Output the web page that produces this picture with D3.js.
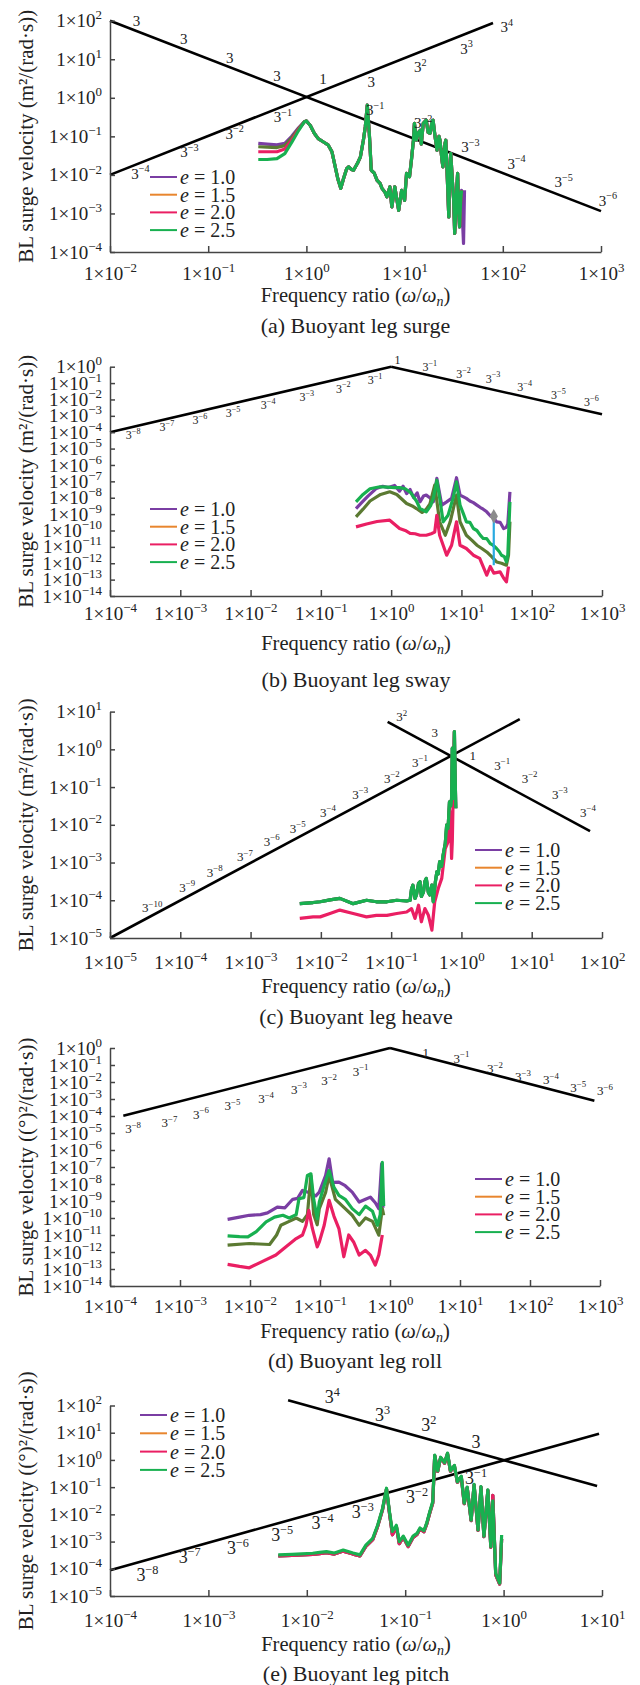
<!DOCTYPE html>
<html>
<head>
<meta charset="utf-8">
<script src="https://cdn.jsdelivr.net/npm/d3@7"></script>
<style>
  body { margin: 0; background: #fff; }
  svg { display: block; }
  text { font-family: "Liberation Serif", "Times New Roman", serif; fill: #222; }
</style>
</head>
<body>
<svg id="chart" width="640" height="1685"></svg>
<script>
// ---- data (all pairs are [log10 x, log10 y]) ----
const seriesValues = ['1.0', '1.5', '2.0', '2.5'];
const legendColors = ['#7a3ea3', '#e8862e', '#ea1f63', '#18b050'];
const lineColors = ['#7a3ea3', '#5b7a32', '#ea1f63', '#18b050'];

const captions = ['(a) Buoyant leg surge', '(b) Buoyant leg sway', '(c) Buoyant leg heave',
  '(d) Buoyant leg roll', '(e) Buoyant leg pitch'];
const yTitleLinear = 'BL surge velocity (m²/(rad·s))';
const yTitleAngular = 'BL surge velocity ((°)²/(rad·s))';

// tick exponents
const surgeXTicks = [-2, -1, 0, 1, 2, 3];
const surgeYTicks = [-4, -3, -2, -1, 0, 1, 2];
const swayXTicks = [-4, -3, -2, -1, 0, 1, 2, 3];
const swayYTicks = [-14, -13, -12, -11, -10, -9, -8, -7, -6, -5, -4, -3, -2, -1, 0];
const heaveXTicks = [-5, -4, -3, -2, -1, 0, 1, 2];
const heaveYTicks = [-5, -4, -3, -2, -1, 0, 1];
const rollXTicks = [-4, -3, -2, -1, 0, 1, 2, 3];
const rollYTicks = [-14, -13, -12, -11, -10, -9, -8, -7, -6, -5, -4, -3, -2, -1, 0];
const pitchXTicks = [-4, -3, -2, -1, 0, 1];
const pitchYTicks = [-5, -4, -3, -2, -1, 0, 1, 2];

// (a) surge
const surgeHeadPurple = [[-0.49,-1.18],[-0.40,-1.20],[-0.30,-1.22],[-0.22,-1.18],[-0.15,-1.00],[-0.08,-0.78],[-0.02,-0.62]];
const surgeHeadOlive = [[-0.49,-1.27],[-0.40,-1.28],[-0.30,-1.29],[-0.22,-1.24],[-0.15,-1.04],[-0.08,-0.80],[-0.02,-0.62]];
const surgeHeadPink = [[-0.49,-1.40],[-0.40,-1.40],[-0.30,-1.40],[-0.22,-1.33],[-0.15,-1.10],[-0.08,-0.82],[-0.02,-0.62]];
const surgeHeadGreen = [[-0.49,-1.60],[-0.40,-1.60],[-0.30,-1.58],[-0.22,-1.45],[-0.15,-1.16],[-0.08,-0.85],[-0.02,-0.62]];
const surgeTail = [[0.00,-0.60],[0.04,-0.72],[0.08,-0.92],[0.12,-1.06],[0.17,-1.14],[0.22,-1.22],[0.26,-1.40],
  [0.29,-1.75],[0.32,-2.10],[0.35,-2.35],[0.38,-2.08],[0.41,-1.84],[0.43,-1.79],[0.46,-1.86],[0.48,-1.88],
  [0.52,-1.70],[0.55,-1.53],[0.58,-1.10],[0.60,-0.75],[0.62,-0.19],[0.64,-0.90],[0.65,-1.36],[0.66,-1.88],
  [0.69,-1.95],[0.72,-2.14],[0.75,-2.22],[0.77,-2.35],[0.80,-2.45],[0.82,-2.57],[0.85,-2.31],[0.87,-2.83],
  [0.90,-2.31],[0.92,-2.62],[0.94,-2.92],[0.97,-2.40],[1.00,-2.66],[1.02,-1.96],[1.05,-2.05],[1.07,-1.60],
  [1.09,-1.10],[1.10,-0.66],[1.12,-1.10],[1.14,-0.90],[1.16,-0.84],[1.17,-1.20],[1.19,-0.66],[1.22,-0.58],
  [1.24,-0.90],[1.26,-0.92],[1.28,-0.60],[1.29,-0.58],[1.31,-1.00],[1.33,-1.36],[1.35,-1.00],[1.36,-1.10],
  [1.38,-1.60],[1.39,-1.79],[1.41,-1.20],[1.42,-1.10],[1.44,-2.40],[1.45,-3.09],[1.46,-2.00],[1.47,-1.44],
  [1.49,-2.30],[1.50,-2.66],[1.51,-3.52],[1.53,-2.40],[1.54,-1.96],[1.55,-2.90],[1.56,-3.35],[1.57,-2.70],[1.58,-2.40]];
const surgeEndPurple = [[1.59,-3.20],[1.60,-3.78],[1.61,-2.40]];
const surgeRefDown = [[-2, 2], [3, -2.94]];
const surgeRefUp = [[-2, -2], [1.9, 1.94]];
const surgeRefLabels = [
  ['3','',-1.73,2.0],['3','',-1.25,1.52],['3','',-0.78,1.05],['3','',-0.30,0.56],
  ['3','−4',-1.69,-1.96],['3','−3',-1.19,-1.40],['3','−2',-0.73,-0.92],['3','−1',-0.24,-0.49],
  ['1','',0.17,0.50],
  ['3','',0.66,0.42],['3','2',1.16,0.81],['3','3',1.63,1.28],['3','4',2.04,1.84],
  ['3','−1',0.70,-0.32],['3','−2',1.19,-0.66],['3','−3',1.67,-1.27],['3','−4',2.14,-1.70],['3','−5',2.62,-2.18],['3','−6',3.07,-2.66]];

// (b) sway
const swayPurple = [[-0.50,-8.66],[-0.42,-8.30],[-0.33,-7.90],[-0.21,-7.43],[-0.12,-7.30],[-0.04,-7.38],[0.05,-7.25],
  [0.12,-7.60],[0.17,-7.30],[0.22,-7.75],[0.27,-7.50],[0.32,-8.00],[0.37,-7.70],[0.41,-8.25],[0.46,-7.90],[0.50,-7.84],
  [0.55,-8.00],[0.60,-8.25],[0.65,-6.82],[0.72,-8.45],[0.79,-8.25],[0.86,-8.04],[0.93,-6.78],[0.98,-7.84],[1.03,-7.95],
  [1.07,-8.04],[1.12,-8.20],[1.17,-8.30],[1.22,-8.45],[1.27,-8.60],[1.31,-8.70],[1.36,-8.86],[1.41,-9.10],[1.45,-9.20],
  [1.50,-9.47],[1.55,-9.50],[1.60,-9.88],[1.64,-9.80],[1.66,-9.60],[1.69,-7.64]];
const swayOlive = [[-0.50,-9.17],[-0.40,-8.70],[-0.30,-8.20],[-0.15,-7.80],[-0.02,-7.64],[0.08,-7.80],[0.22,-8.35],
  [0.30,-8.50],[0.36,-8.66],[0.44,-8.90],[0.50,-8.70],[0.55,-8.40],[0.62,-7.23],[0.69,-9.47],[0.77,-10.29],[0.84,-9.47],
  [0.93,-7.84],[0.98,-9.47],[1.07,-10.29],[1.15,-10.60],[1.22,-10.90],[1.29,-11.10],[1.36,-11.31],[1.43,-11.60],
  [1.50,-11.92],[1.57,-12.00],[1.64,-12.12],[1.67,-11.50],[1.69,-9.47]];
const swayPink = [[-0.50,-9.78],[-0.35,-9.60],[-0.20,-9.45],[-0.02,-9.37],[0.12,-9.88],[0.20,-10.00],[0.27,-10.18],
  [0.34,-10.20],[0.41,-10.29],[0.50,-10.29],[0.57,-10.20],[0.62,-10.10],[0.65,-9.07],[0.69,-10.29],[0.74,-10.90],
  [0.79,-11.51],[0.86,-10.90],[0.93,-9.47],[0.98,-10.90],[1.07,-11.10],[1.17,-11.51],[1.26,-11.70],[1.36,-12.73],
  [1.41,-12.20],[1.46,-12.60],[1.55,-12.53],[1.60,-12.90],[1.64,-13.14],[1.67,-12.20]];
const swayGreen = [[-0.50,-8.25],[-0.40,-7.80],[-0.30,-7.45],[-0.16,-7.33],[-0.05,-7.35],[0.05,-7.38],[0.12,-7.38],
  [0.20,-7.45],[0.28,-7.70],[0.36,-8.20],[0.41,-8.66],[0.50,-8.86],[0.56,-8.50],[0.60,-8.04],[0.65,-6.93],[0.69,-8.00],
  [0.74,-9.47],[0.81,-9.07],[0.88,-8.04],[0.93,-7.03],[0.98,-8.45],[1.03,-9.00],[1.07,-9.47],[1.12,-9.50],[1.17,-9.88],
  [1.22,-10.00],[1.27,-10.30],[1.31,-10.49],[1.36,-10.50],[1.41,-10.80],[1.45,-10.90],[1.50,-11.10],[1.54,-11.30],
  [1.57,-11.51],[1.61,-11.60],[1.64,-11.92],[1.66,-11.50],[1.69,-8.25]];
const swayTip = [1.46, -9.13, -12.12];
const swayRefUp = [[-4, -4], [0, 0]];
const swayRefDown = [[0, 0], [3, -2.9]];
const swayRefLabels = [
  ['3','−8',-3.67,-4.18],['3','−7',-3.19,-3.67],['3','−6',-2.72,-3.26],['3','−5',-2.25,-2.79],['3','−4',-1.75,-2.30],
  ['3','−3',-1.20,-1.83],['3','−2',-0.68,-1.32],['3','−1',-0.23,-0.81],['1','',0.09,0.41],['3','−1',0.55,0],
  ['3','−2',1.03,-0.41],['3','−3',1.45,-0.71],['3','−4',1.90,-1.22],['3','−5',2.38,-1.73],['3','−6',2.85,-2.14]];

// (c) heave
const heaveUpper = [[-2.30,-4.09],[-2.11,-4.06],[-2.01,-4.04],[-1.87,-3.99],[-1.73,-3.95],[-1.54,-4.09],[-1.35,-4.00],
  [-1.21,-4.04],[-1.06,-4.04],[-0.92,-4.00],[-0.78,-4.02],[-0.73,-4.00],[-0.71,-3.70],[-0.69,-3.60],[-0.66,-3.95],
  [-0.64,-3.86],[-0.61,-3.55],[-0.59,-3.51],[-0.57,-3.90],[-0.54,-3.78],[-0.52,-3.50],[-0.50,-3.42],[-0.47,-3.80],
  [-0.45,-3.86],[-0.42,-3.60],[-0.40,-4.04],[-0.37,-3.50],[-0.35,-3.25],[-0.33,-3.30],[-0.31,-2.98],[-0.28,-3.10],
  [-0.26,-2.80],[-0.23,-2.50],[-0.21,-2.01],[-0.19,-2.10],[-0.17,-1.39],[-0.15,-1.50],[-0.14,-1.30],[-0.13,0.03],
  [-0.12,-1.30],[-0.11,-0.60],[-0.10,0.47],[-0.09,-0.70],[-0.08,-1.56]];
const heavePink = [[-2.30,-4.48],[-2.11,-4.44],[-2.01,-4.44],[-1.87,-4.35],[-1.73,-4.26],[-1.54,-4.35],[-1.35,-4.44],
  [-1.21,-4.40],[-1.06,-4.40],[-0.92,-4.35],[-0.78,-4.31],[-0.71,-4.22],[-0.66,-4.48],[-0.61,-4.13],[-0.57,-4.57],
  [-0.52,-4.22],[-0.47,-4.40],[-0.42,-4.79],[-0.38,-4.04],[-0.33,-3.69],[-0.28,-3.42],[-0.23,-2.63],[-0.19,-2.45],
  [-0.16,-1.65],[-0.14,-2.89],[-0.13,-2.45],[-0.10,0.47]];
const heaveRefUp = [[-5, -5], [0.83, 0.8]];
const heaveRefDown = [[-1.05, 0.73], [1.83, -2.17]];
const heaveRefLabels = [
  ['3','−10',-4.40,-4.19],['3','−9',-3.90,-3.65],['3','−8',-3.51,-3.25],['3','−7',-3.08,-2.85],['3','−6',-2.70,-2.43],
  ['3','−5',-2.33,-2.09],['3','−4',-1.90,-1.66],['3','−3',-1.44,-1.19],['3','−2',-0.99,-0.76],['3','−1',-0.59,-0.34],
  ['3','2',-0.85,0.86],['3','',-0.38,0.46],['1','',0.16,-0.15],['3','−1',0.58,-0.42],['3','−2',0.97,-0.76],
  ['3','−3',1.40,-1.19],['3','−4',1.80,-1.66]];

// (d) roll
const rollPurple = [[-2.32,-10.08],[-2.15,-9.95],[-2.01,-9.84],[-1.85,-9.80],[-1.75,-9.70],[-1.61,-9.36],[-1.50,-9.40],
  [-1.39,-8.90],[-1.32,-8.85],[-1.25,-8.38],[-1.16,-8.50],[-1.06,-8.70],[-1.01,-8.48],[-0.92,-7.50],[-0.87,-6.52],
  [-0.82,-7.90],[-0.73,-7.89],[-0.64,-8.10],[-0.54,-8.48],[-0.44,-9.06],[-0.35,-8.90],[-0.28,-8.77],[-0.21,-9.10],
  [-0.16,-9.45],[-0.12,-6.81],[-0.10,-9.40]];
const rollOlive = [[-2.32,-11.60],[-2.01,-11.50],[-1.72,-11.56],[-1.62,-11.00],[-1.56,-10.43],[-1.44,-10.20],
  [-1.34,-10.00],[-1.25,-10.20],[-1.18,-9.80],[-1.13,-7.50],[-1.09,-9.80],[-1.04,-10.40],[-1.01,-9.45],[-0.92,-8.50],
  [-0.87,-7.50],[-0.78,-8.90],[-0.64,-9.45],[-0.54,-9.84],[-0.44,-10.43],[-0.35,-10.00],[-0.25,-10.20],[-0.16,-11.01],
  [-0.11,-9.45],[-0.09,-9.84]];
const rollPink = [[-2.32,-12.73],[-2.15,-12.85],[-2.01,-12.93],[-1.82,-12.55],[-1.63,-12.18],[-1.49,-11.70],
  [-1.34,-11.21],[-1.25,-11.00],[-1.20,-10.43],[-1.16,-9.55],[-1.11,-10.60],[-1.04,-11.70],[-1.01,-11.41],
  [-0.94,-10.43],[-0.87,-8.96],[-0.80,-9.90],[-0.73,-10.62],[-0.66,-12.28],[-0.59,-11.00],[-0.52,-11.41],
  [-0.44,-12.18],[-0.35,-11.90],[-0.28,-12.18],[-0.21,-12.77],[-0.16,-12.18],[-0.11,-11.00]];
const rollGreen = [[-2.32,-11.05],[-2.15,-11.10],[-2.03,-11.11],[-1.91,-10.80],[-1.77,-10.23],[-1.65,-9.95],
  [-1.53,-9.84],[-1.44,-10.00],[-1.34,-9.80],[-1.30,-8.86],[-1.23,-8.80],[-1.18,-7.50],[-1.13,-7.40],[-1.09,-8.90],
  [-1.04,-10.04],[-1.01,-9.06],[-0.94,-8.08],[-0.87,-7.21],[-0.80,-8.20],[-0.73,-8.67],[-0.64,-8.90],[-0.54,-9.45],
  [-0.44,-9.80],[-0.35,-9.30],[-0.25,-9.60],[-0.18,-10.43],[-0.14,-9.80],[-0.11,-6.72],[-0.09,-9.30]];
const rollRefUp = [[-3.81, -3.98], [0, 0]];
const rollRefDown = [[0, 0], [2.92, -3.1]];
const rollRefLabels = [
  ['3','−8',-3.67,-4.76],['3','−7',-3.15,-4.38],['3','−6',-2.70,-3.88],['3','−5',-2.25,-3.40],['3','−4',-1.77,-2.97],
  ['3','−3',-1.30,-2.42],['3','−2',-0.87,-1.93],['3','−1',-0.42,-1.35],['1','',0.51,-0.29],['3','−1',1.02,-0.59],
  ['3','−2',1.50,-1.23],['3','−3',1.90,-1.70],['3','−4',2.30,-1.87],['3','−5',2.69,-2.34],['3','−6',3.07,-2.52]];

// (e) pitch
const pitchOther = [[-2.29,-3.53],[-2.15,-3.51],[-2.05,-3.49],[-1.94,-3.47],[-1.87,-3.44],[-1.80,-3.41],[-1.72,-3.46],
  [-1.63,-3.35],[-1.53,-3.46],[-1.46,-3.53],[-1.40,-3.18],[-1.33,-2.93],[-1.28,-2.44],[-1.23,-1.82],[-1.19,-1.07],
  [-1.16,-1.95],[-1.13,-2.75],[-1.09,-2.45],[-1.06,-3.08],[-1.02,-2.84],[-0.97,-3.18],[-0.92,-2.85],[-0.88,-2.74],
  [-0.85,-2.54],[-0.81,-2.64],[-0.78,-2.34],[-0.75,-1.94],[-0.72,-1.58],[-0.70,0.16],[-0.67,-0.42],[-0.64,0.08],
  [-0.60,-0.12],[-0.57,0.23],[-0.54,-0.42],[-0.50,-0.22],[-0.47,-0.82],[-0.43,-0.62],[-0.40,-1.61],[-0.37,-1.02],
  [-0.33,-2.23],[-0.30,-0.92],[-0.26,-2.59],[-0.23,-1.00],[-0.20,-2.82],[-0.16,-1.12],[-0.13,-3.21],[-0.11,-1.30],
  [-0.08,-4.22],[-0.04,-4.56],[-0.02,-2.90]];
const pitchGreen = [[-2.29,-3.49],[-2.15,-3.47],[-2.05,-3.45],[-1.94,-3.43],[-1.87,-3.40],[-1.80,-3.37],[-1.72,-3.42],
  [-1.63,-3.31],[-1.53,-3.42],[-1.46,-3.49],[-1.40,-3.13],[-1.33,-2.88],[-1.28,-2.40],[-1.23,-1.78],[-1.19,-1.04],
  [-1.16,-1.90],[-1.13,-2.63],[-1.09,-2.40],[-1.06,-3.00],[-1.02,-2.80],[-0.97,-3.13],[-0.92,-2.80],[-0.88,-2.70],
  [-0.85,-2.50],[-0.81,-2.60],[-0.78,-2.30],[-0.75,-1.90],[-0.72,-1.53],[-0.70,0.18],[-0.67,-0.40],[-0.64,0.10],
  [-0.60,-0.10],[-0.57,0.25],[-0.54,-0.40],[-0.50,-0.20],[-0.47,-0.80],[-0.43,-0.60],[-0.40,-1.59],[-0.37,-1.00],
  [-0.33,-2.21],[-0.30,-0.90],[-0.26,-2.57],[-0.23,-0.98],[-0.20,-2.80],[-0.16,-1.10],[-0.13,-3.19],[-0.11,-1.50],
  [-0.08,-4.17],[-0.04,-4.53],[-0.02,-2.76]];
const pitchRefUp = [[-4, -4.05], [0.97, 0.96]];
const pitchRefDown = [[-2.19, 2.19], [0.95, -0.96]];
const pitchRefLabels = [
  ['3','4',-1.74,2.32],['3','3',-1.23,1.65],['3','2',-0.76,1.29],['3','',-0.28,0.66],
  ['3','−8',-3.62,-4.23],['3','−7',-3.19,-3.57],['3','−6',-2.70,-3.24],['3','−5',-2.25,-2.76],
  ['3','−4',-1.84,-2.32],['3','−3',-1.43,-1.91],['3','−2',-0.88,-1.36],['3','−1',-0.28,-0.66]];

// ---- layout ----
const LEFT = 110;
const panels = [
  { top: 20.7, bottom: 252, right: 601, xLab: 273, xTitle: 295, cap: 325, labelSize: 15,
    legend: [150, 177, 177, 17.7], xTicks: surgeXTicks, yTicks: surgeYTicks, yTitle: yTitleLinear,
    series: [surgeHeadPurple.concat(surgeTail, surgeEndPurple), surgeHeadOlive.concat(surgeTail),
             surgeHeadPink.concat(surgeTail), surgeHeadGreen.concat(surgeTail)],
    refs: [surgeRefDown, surgeRefUp], labels: surgeRefLabels },
  { top: 366.7, bottom: 596, right: 602, xLab: 613, xTitle: 643, cap: 679, labelSize: 12,
    legend: [150, 177, 509, 17.7], xTicks: swayXTicks, yTicks: swayYTicks, yTitle: yTitleLinear,
    series: [swayPurple, swayOlive, swayPink, swayGreen],
    refs: [swayRefUp, swayRefDown], labels: swayRefLabels, tip: swayTip },
  { top: 711.6, bottom: 938, right: 602, xLab: 962, xTitle: 986, cap: 1016, labelSize: 13,
    legend: [475, 502, 850, 17.7], xTicks: heaveXTicks, yTicks: heaveYTicks, yTitle: yTitleLinear,
    series: [heaveUpper, heaveUpper, heavePink, heaveUpper],
    refs: [heaveRefUp, heaveRefDown], labels: heaveRefLabels },
  { top: 1048, bottom: 1286, right: 600, xLab: 1306, xTitle: 1331, cap: 1360, labelSize: 13,
    legend: [475, 502, 1179, 17.7], xTicks: rollXTicks, yTicks: rollYTicks, yTitle: yTitleAngular,
    series: [rollPurple, rollOlive, rollPink, rollGreen],
    refs: [rollRefUp, rollRefDown], labels: rollRefLabels },
  { top: 1405.5, bottom: 1596, right: 602, xLab: 1620, xTitle: 1644, cap: 1673, labelSize: 18,
    legend: [140, 167, 1415, 18.3], xTicks: pitchXTicks, yTicks: pitchYTicks, yTitle: yTitleAngular,
    series: [pitchOther, pitchOther, pitchOther, pitchGreen],
    refs: [pitchRefUp, pitchRefDown], labels: pitchRefLabels }
];

const svg = d3.select('#chart');
const expText = k => (k < 0 ? '−' + (-k) : String(k));

// base text plus a raised exponent
function withSup(sel, base, exp, size) {
  sel.append('tspan').text(base);
  if (exp) {
    sel.append('tspan').attr('dy', -0.42 * size).attr('font-size', 0.68 * size).text(exp);
  }
}

panels.forEach((p, pi) => {
  const x = d3.scaleLog()
    .domain([10 ** p.xTicks[0], 10 ** p.xTicks[p.xTicks.length - 1]])
    .range([LEFT, p.right]);
  const y = d3.scaleLog()
    .domain([10 ** p.yTicks[0], 10 ** p.yTicks[p.yTicks.length - 1]])
    .range([p.bottom, p.top]);
  const g = svg.append('g');

  // reference lines
  const line = d3.line().x(d => x(10 ** d[0])).y(d => y(10 ** d[1]));
  p.refs.forEach(r => {
    g.append('path').attr('d', line(r)).attr('fill', 'none')
      .attr('stroke', '#000').attr('stroke-width', 2.6);
  });

  // series (green last, on top)
  p.series.forEach((s, i) => {
    g.append('path').attr('d', line(s)).attr('fill', 'none')
      .attr('stroke', lineColors[i]).attr('stroke-width', 3.2)
      .attr('stroke-linejoin', 'round');
  });

  // data tip marker in (b)
  if (p.tip) {
    const tx = x(10 ** p.tip[0]);
    g.append('line').attr('x1', tx).attr('x2', tx)
      .attr('y1', y(10 ** p.tip[1])).attr('y2', y(10 ** p.tip[2]))
      .attr('stroke', '#29a9e0').attr('stroke-width', 2.2);
    g.append('path').attr('d', d3.symbol(d3.symbolDiamond, 60)())
      .attr('transform', `translate(${tx},${y(10 ** p.tip[1])})`).attr('fill', '#8c8c8c');
  }

  // line labels
  p.labels.forEach(l => {
    const t = g.append('text')
      .attr('x', x(10 ** l[2])).attr('y', y(10 ** l[3]))
      .attr('dy', '0.35em').attr('text-anchor', 'middle')
      .attr('font-size', p.labelSize);
    withSup(t, l[0], l[1], p.labelSize);
  });

  // axes
  const yAxis = d3.axisLeft(y).tickValues(p.yTicks.map(k => 10 ** k))
    .tickSize(-5).tickSizeOuter(0).tickPadding(8).tickFormat(() => '');
  const gy = g.append('g').attr('transform', `translate(${LEFT},0)`).call(yAxis)
    .attr('font-size', 19).attr('color', '#444');
  gy.selectAll('.tick text').each(function (d, i) {
    withSup(d3.select(this), '1×10', expText(p.yTicks[i]), 19);
  });

  const xAxis = d3.axisBottom(x).tickValues(p.xTicks.map(k => 10 ** k))
    .tickSize(-6).tickSizeOuter(0).tickFormat(() => '');
  const gx = g.append('g').attr('transform', `translate(0,${p.bottom})`).call(xAxis)
    .attr('font-size', 19).attr('color', '#444');
  gx.selectAll('.tick text').attr('y', p.xLab - p.bottom).attr('dy', '0.35em')
    .each(function (d, i) {
      withSup(d3.select(this), '1×10', expText(p.xTicks[i]), 19);
    });
  g.selectAll('.domain, .tick line').attr('stroke-width', 1.5);

  // axis titles
  const midX = (LEFT + p.right) / 2;
  g.append('text')
    .attr('transform', `translate(26,${(p.top + p.bottom) / 2}) rotate(-90)`)
    .attr('text-anchor', 'middle').attr('dy', '0.35em').attr('font-size', 21)
    .text(p.yTitle);

  const xt = g.append('text').attr('x', midX).attr('y', p.xTitle)
    .attr('dy', '0.35em').attr('text-anchor', 'middle').attr('font-size', 20.5);
  xt.append('tspan').text('Frequency ratio (');
  xt.append('tspan').attr('font-style', 'italic').text('ω');
  xt.append('tspan').text('/');
  xt.append('tspan').attr('font-style', 'italic').text('ω');
  xt.append('tspan').attr('font-style', 'italic').attr('font-size', 14).attr('dy', 4).text('n');
  xt.append('tspan').attr('dy', -4).text(')');

  g.append('text').attr('x', midX).attr('y', p.cap).attr('dy', '0.35em')
    .attr('text-anchor', 'middle').attr('font-size', 22).text(captions[pi]);

  // legend
  const [lx1, lx2, ly, lgap] = p.legend;
  seriesValues.forEach((v, i) => {
    const yy = ly + i * lgap;
    g.append('line').attr('x1', lx1).attr('x2', lx2).attr('y1', yy).attr('y2', yy)
      .attr('stroke', legendColors[i]).attr('stroke-width', 2);
    const t = g.append('text').attr('x', lx2 + 3).attr('y', yy).attr('dy', '0.35em').attr('font-size', 20);
    t.append('tspan').attr('font-style', 'italic').text('e');
    t.append('tspan').text(' = ' + v);
  });
});
</script>
</body>
</html>
